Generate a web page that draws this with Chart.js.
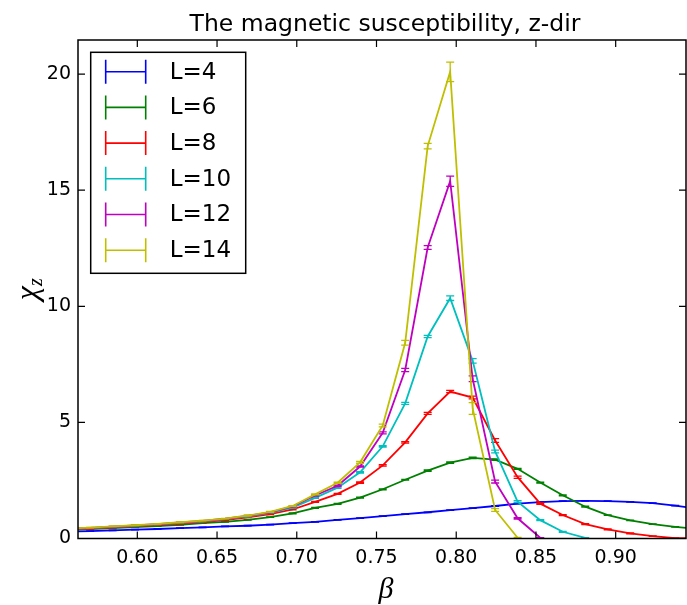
<!DOCTYPE html>
<html lang="en">
<head>
<meta charset="UTF-8">
<title>Magnetic susceptibility, z-dir</title>
<script src="https://cdn.jsdelivr.net/npm/chart.js"></script>
<style>
  body { margin: 0; background: #fff; }
</style>
</head>
<body>
<canvas id="chiChart" width="687" height="605"></canvas>
<script>
// inverse temperature grid
const beta = [0.5562, 0.5704, 0.5845, 0.5986, 0.6127, 0.6268, 0.6409, 0.6550, 0.6692, 0.6833,
              0.6974, 0.7115, 0.7256, 0.7397, 0.7539, 0.7680, 0.7821, 0.7962, 0.8103, 0.8244,
              0.8385, 0.8527, 0.8668, 0.8809, 0.8950, 0.9091, 0.9232, 0.9373, 0.9515];

// chi_z for each lattice size
const chiL4  = [0.30, 0.32, 0.35, 0.38, 0.41, 0.45, 0.48, 0.52, 0.55, 0.60, 0.66, 0.72, 0.80, 0.88, 0.96,
                1.05, 1.13, 1.22, 1.31, 1.40, 1.50, 1.57, 1.61, 1.62, 1.61, 1.58, 1.52, 1.42, 1.28];
const chiL6  = [0.37, 0.41, 0.45, 0.49, 0.53, 0.59, 0.66, 0.72, 0.80, 0.92, 1.08, 1.32, 1.49, 1.76, 2.12,
                2.53, 2.92, 3.27, 3.47, 3.40, 3.00, 2.41, 1.86, 1.37, 1.01, 0.78, 0.62, 0.50, 0.42];
const chiL8  = [0.39, 0.43, 0.48, 0.53, 0.58, 0.64, 0.71, 0.79, 0.91, 1.05, 1.25, 1.58, 1.92, 2.41, 3.15,
                4.14, 5.39, 6.33, 6.07, 4.22, 2.64, 1.50, 1.01, 0.62, 0.39, 0.22, 0.10, 0.02, 0.00];
const chiL10 = [0.40, 0.45, 0.50, 0.55, 0.61, 0.67, 0.74, 0.83, 0.95, 1.10, 1.33, 1.75, 2.19, 2.85, 3.97,
                5.82, 8.70, 10.35, 7.65, 3.75, 1.59, 0.79, 0.29, 0.03, null, null, null, null, null];
const chiL12 = [0.41, 0.46, 0.51, 0.56, 0.62, 0.69, 0.76, 0.85, 0.97, 1.13, 1.38, 1.85, 2.27, 3.10, 4.55,
                7.26, 12.53, 15.39, 6.88, 2.45, 0.87, 0.03, null, null, null, null, null, null, null];
const chiL14 = [0.42, 0.47, 0.52, 0.57, 0.63, 0.70, 0.77, 0.86, 0.99, 1.15, 1.40, 1.90, 2.40, 3.28, 4.87,
                8.43, 16.90, 20.10, 5.60, 1.23, 0.03, null, null, null, null, null, null, null, null];

// statistical errors
const errL4  = [0.01, 0.01, 0.01, 0.01, 0.01, 0.01, 0.01, 0.01, 0.01, 0.01, 0.01, 0.01, 0.01, 0.01, 0.01,
                0.01, 0.01, 0.01, 0.01, 0.01, 0.01, 0.01, 0.01, 0.01, 0.01, 0.01, 0.01, 0.01, 0.01];
const errL6  = [0.01, 0.01, 0.01, 0.01, 0.01, 0.01, 0.01, 0.01, 0.01, 0.01, 0.02, 0.02, 0.02, 0.02, 0.02,
                0.02, 0.03, 0.03, 0.03, 0.03, 0.02, 0.02, 0.02, 0.02, 0.01, 0.01, 0.01, 0.01, 0.01];
const errL8  = [0.01, 0.01, 0.01, 0.01, 0.01, 0.01, 0.01, 0.01, 0.01, 0.02, 0.02, 0.02, 0.02, 0.03, 0.03,
                0.03, 0.04, 0.05, 0.06, 0.08, 0.05, 0.03, 0.02, 0.02, 0.02, 0.02, 0.01, 0.01, 0.01];
const errL10 = [0.01, 0.01, 0.01, 0.01, 0.01, 0.01, 0.01, 0.01, 0.02, 0.02, 0.02, 0.02, 0.03, 0.03, 0.03,
                0.04, 0.05, 0.10, 0.10, 0.06, 0.04, 0.02, 0.02, 0.01, 0, 0, 0, 0, 0];
const errL12 = [0.01, 0.01, 0.01, 0.01, 0.01, 0.01, 0.01, 0.01, 0.02, 0.02, 0.02, 0.02, 0.03, 0.03, 0.04,
                0.07, 0.08, 0.22, 0.12, 0.06, 0.03, 0.01, 0, 0, 0, 0, 0, 0, 0];
const errL14 = [0.01, 0.01, 0.01, 0.01, 0.01, 0.01, 0.01, 0.01, 0.02, 0.02, 0.02, 0.02, 0.03, 0.04, 0.06,
                0.10, 0.12, 0.42, 0.25, 0.06, 0.02, 0, 0, 0, 0, 0, 0, 0, 0];

const series = [
  { label: 'L=4',  values: chiL4,  errors: errL4,  color: '#0000ff' },
  { label: 'L=6',  values: chiL6,  errors: errL6,  color: '#008000' },
  { label: 'L=8',  values: chiL8,  errors: errL8,  color: '#ff0000' },
  { label: 'L=10', values: chiL10, errors: errL10, color: '#00bfbf' },
  { label: 'L=12', values: chiL12, errors: errL12, color: '#bf00bf' },
  { label: 'L=14', values: chiL14, errors: errL14, color: '#bfbf00' }
];

const datasets = series.map((s, i) => ({
  label: s.label,
  data: beta.map((b, j) => ({ x: b, y: s.values[j] })),
  errors: s.errors,
  borderColor: s.color,
  borderWidth: 1.8,
  pointRadius: 0,
  fill: false,
  tension: 0,
  order: series.length - i
}));

// error bars, box frame with inward ticks, title, axis labels and legend
const mplStyle = {
  id: 'mplStyle',
  afterDatasetDraw(chart, args) {
    const ds = chart.data.datasets[args.index];
    const { ctx, chartArea: a, scales: { x, y } } = chart;
    ctx.save();
    ctx.beginPath();
    ctx.rect(a.left, a.top, a.right - a.left, a.bottom - a.top);
    ctx.clip();
    ctx.strokeStyle = ds.borderColor;
    ctx.lineWidth = 1.3;
    ds.data.forEach((p, j) => {
      if (p.y == null) return;
      const e = ds.errors[j];
      const px = x.getPixelForValue(p.x);
      const hi = y.getPixelForValue(p.y + e);
      const lo = y.getPixelForValue(p.y - e);
      ctx.beginPath();
      ctx.moveTo(px, hi); ctx.lineTo(px, lo);
      ctx.moveTo(px - 4, hi); ctx.lineTo(px + 4, hi);
      ctx.moveTo(px - 4, lo); ctx.lineTo(px + 4, lo);
      ctx.stroke();
    });
    ctx.restore();
  },
  afterDraw(chart) {
    const { ctx, chartArea: a, scales: { x, y } } = chart;
    ctx.save();

    // frame
    ctx.strokeStyle = '#000';
    ctx.lineWidth = 1.5;
    ctx.strokeRect(a.left, a.top, a.right - a.left, a.bottom - a.top);

    // inward ticks on all four sides
    ctx.lineWidth = 1.2;
    ctx.beginPath();
    x.ticks.forEach(t => {
      const px = x.getPixelForValue(t.value);
      ctx.moveTo(px, a.bottom); ctx.lineTo(px, a.bottom - 7);
      ctx.moveTo(px, a.top); ctx.lineTo(px, a.top + 7);
    });
    y.ticks.forEach(t => {
      const py = y.getPixelForValue(t.value);
      ctx.moveTo(a.left, py); ctx.lineTo(a.left + 7, py);
      ctx.moveTo(a.right, py); ctx.lineTo(a.right - 7, py);
    });
    ctx.stroke();

    // title
    ctx.fillStyle = '#000';
    ctx.font = '23.5px "DejaVu Sans"';
    ctx.textAlign = 'center';
    ctx.textBaseline = 'alphabetic';
    ctx.fillText('The magnetic susceptibility, z-dir', (a.left + a.right) / 2 + 3, 31);

    // x label
    ctx.font = 'italic 30px "Liberation Serif"';
    ctx.fillText('\u03B2', (a.left + a.right) / 2 + 4, 598);

    // y label chi_z
    ctx.save();
    ctx.translate(37, (a.top + a.bottom) / 2);
    ctx.rotate(-Math.PI / 2);
    ctx.textAlign = 'left';
    ctx.font = 'italic 32px "Liberation Serif"';
    const chiW = ctx.measureText('\u03C7').width;
    ctx.font = 'italic 20px "Liberation Serif"';
    const zW = ctx.measureText('z').width;
    const x0 = -(chiW + zW) / 2;
    ctx.font = 'italic 32px "Liberation Serif"';
    ctx.fillText('\u03C7', x0, 0);
    ctx.font = 'italic 20px "Liberation Serif"';
    ctx.fillText('z', x0 + chiW, 5);
    ctx.restore();

    // legend
    const lx = a.left + 12.7, ly = a.top + 12.3, lw = 155, lh = 221;
    ctx.fillStyle = '#fff';
    ctx.fillRect(lx, ly, lw, lh);
    ctx.strokeStyle = '#000';
    ctx.lineWidth = 1.5;
    ctx.strokeRect(lx, ly, lw, lh);
    ctx.font = '23px "DejaVu Sans"';
    ctx.textAlign = 'left';
    ctx.textBaseline = 'middle';
    chart.data.datasets.forEach((ds, i) => {
      const cy = ly + 19.4 + i * 35.7;
      ctx.strokeStyle = ds.borderColor;
      ctx.lineWidth = 1.6;
      ctx.beginPath();
      ctx.moveTo(lx + 15, cy); ctx.lineTo(lx + 55, cy);
      ctx.moveTo(lx + 15, cy - 12); ctx.lineTo(lx + 15, cy + 12);
      ctx.moveTo(lx + 55, cy - 12); ctx.lineTo(lx + 55, cy + 12);
      ctx.stroke();
      ctx.fillStyle = '#000';
      ctx.fillText(ds.label, lx + 79, cy + 1);
    });

    ctx.restore();
  }
};

const chiChart = new Chart(document.getElementById('chiChart').getContext('2d'), {
  type: 'line',
  data: { datasets: datasets },
  plugins: [mplStyle],
  options: {
    responsive: false,
    animation: false,
    devicePixelRatio: 1,
    layout: { padding: { top: 40, right: 1, left: 0, bottom: 0 } },
    plugins: { legend: { display: false }, title: { display: false }, tooltip: { enabled: false } },
    scales: {
      x: {
        type: 'linear',
        min: 0.5628,
        max: 0.9441,
        grid: { display: false, drawTicks: false },
        border: { display: false },
        ticks: {
          stepSize: 0.05,
          includeBounds: false,
          autoSkip: false,
          maxRotation: 0,
          padding: 8,
          color: '#000',
          font: { family: 'DejaVu Sans', size: 19 },
          callback: v => v.toFixed(2)
        },
        afterFit: s => { s.height = 66.5; }
      },
      y: {
        type: 'linear',
        min: 0,
        max: 21.47,
        grid: { display: false, drawTicks: false },
        border: { display: false },
        ticks: {
          stepSize: 5,
          includeBounds: false,
          padding: 7,
          color: '#000',
          font: { family: 'DejaVu Sans', size: 19 },
          callback: v => Math.round(v).toString()
        },
        afterFit: s => { s.width = 78; }
      }
    }
  }
});
</script>
</body>
</html>
